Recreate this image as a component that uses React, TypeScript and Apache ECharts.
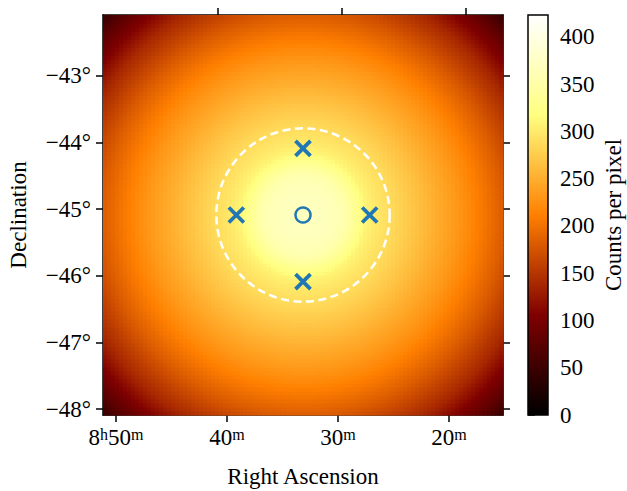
import React, { useEffect, useRef } from 'react';
import * as echarts from 'echarts';

// ---- data ----
const raTicksBottom = [50, 40, 30, 20]; // minutes past 8h, along the bottom edge
const raTicksTop = [40, 30, 20]; // along the top edge (curved grid)
const decTicks = [-48, -47, -46, -45, -44, -43];
const cbTicks = [0, 50, 100, 150, 200, 250, 300, 350, 400];

const raRangeBottom = [15.14, 51.17];
const raRangeTop = [17.02, 49.27];
const decRange = [-48.09, -42.09];
const offsetRange = [-3, 3]; // tangent-plane offsets from the field centre, degrees

// radial count profile of the sky image (radius in degrees -> counts per pixel)
const profileRadius = [0, 0.3, 0.5, 0.65, 0.8, 0.95, 1.1, 1.35, 1.6, 1.8, 2.0, 2.25, 2.5, 2.75, 3.0, 3.25, 3.5, 3.75, 4.0, 4.25];
const profileCounts = [370, 368, 363, 352, 330, 308, 298, 286, 272, 261, 249, 235, 219, 201, 182, 160, 138, 108, 78, 42];

const sourceOffset = [[0, 0]];
const pointingOffsets = [[0, 1], [0, -1], [-1, 0], [1, 0]];
const regionRadius = [1.3];
const vmax = 423;
const colormap = ['#000000', '#800000', '#ff8000', '#ffff80', '#ffffff'];

const nCells = 100;
const FONT = 'Liberation Serif';
const FS = 23;
const BLUE = '#1f77b4';

function profileAt(r: number): number {
  if (r <= profileRadius[0]) return profileCounts[0];
  for (let i = 1; i < profileRadius.length; i++) {
    if (r <= profileRadius[i]) {
      const t = (r - profileRadius[i - 1]) / (profileRadius[i] - profileRadius[i - 1]);
      return profileCounts[i - 1] + t * (profileCounts[i] - profileCounts[i - 1]);
    }
  }
  return profileCounts[profileCounts.length - 1];
}

function buildImage() {
  const out: number[][] = [];
  const step = (offsetRange[1] - offsetRange[0]) / nCells;
  for (let j = 0; j < nCells; j++) {
    const y = offsetRange[0] + (j + 0.5) * step;
    for (let i = 0; i < nCells; i++) {
      const x = offsetRange[0] + (i + 0.5) * step;
      out.push([x, y, profileAt(Math.sqrt(x * x + y * y))]);
    }
  }
  return { out, step };
}

const axisLine = { show: true, onZero: false, lineStyle: { color: '#000', width: 1.5 } };
const tickStyle = { color: '#000', width: 1.5 };

export default function App() {
  const ref = useRef<HTMLDivElement>(null);
  useEffect(() => {
    document.body.style.margin = '0';
    if (!ref.current) return;
    const chart = echarts.init(ref.current, undefined, { renderer: 'svg' });
    const { out: image, step } = buildImage();
    const half = step / 2;

    const option: any = {
      animation: false,
      backgroundColor: '#fff',
      textStyle: { fontFamily: FONT, color: '#000' },
      grid: [
        { left: 103, top: 15, width: 400, height: 400, containLabel: false, outerBoundsMode: 'none' },
        { left: 528, top: 15, width: 20, height: 400, containLabel: false, outerBoundsMode: 'none' },
      ],
      visualMap: {
        type: 'continuous',
        show: false,
        min: 0,
        max: vmax,
        dimension: 2,
        seriesIndex: 0,
        inRange: { color: colormap },
      },
      xAxis: [
        {
          gridIndex: 0, type: 'value', position: 'bottom', inverse: true,
          min: raRangeBottom[0], max: raRangeBottom[1],
          axisLine, splitLine: { show: false },
          axisTick: { show: true, length: 7, lineStyle: tickStyle, customValues: raTicksBottom },
          axisLabel: {
            customValues: raTicksBottom, margin: 11, color: '#000',
            formatter: (v: number) => (v === 50 ? '{n|8}{s|h}{n|50}{s|m}' : `{n|${v}}{s|m}`),
            rich: {
              n: { fontSize: FS, fontFamily: FONT, color: '#000' },
              s: { fontSize: 16, fontFamily: FONT, color: '#000', verticalAlign: 'top' },
            },
          },
          name: 'Right Ascension', nameLocation: 'middle', nameGap: 50,
          nameTextStyle: { fontSize: FS, fontFamily: FONT, color: '#000' },
        },
        {
          gridIndex: 0, type: 'value', position: 'top', inverse: true,
          min: raRangeTop[0], max: raRangeTop[1],
          axisLine, splitLine: { show: false },
          axisTick: { show: true, length: 7, lineStyle: tickStyle, customValues: raTicksTop },
          axisLabel: { show: false },
        },
        { gridIndex: 0, type: 'value', min: offsetRange[0], max: offsetRange[1], show: false },
        { gridIndex: 1, type: 'value', min: 0, max: 1, show: false },
      ],
      yAxis: [
        {
          gridIndex: 0, type: 'value', position: 'left',
          min: decRange[0], max: decRange[1],
          axisLine, splitLine: { show: false },
          axisTick: { show: true, length: 7, lineStyle: tickStyle, customValues: decTicks },
          axisLabel: {
            customValues: decTicks, margin: 12, fontSize: FS, fontFamily: FONT, color: '#000',
            formatter: (v: number) => (v < 0 ? '\u2212' : '') + Math.abs(v) + '°',
          },
          name: 'Declination', nameLocation: 'middle', nameGap: 73,
          nameTextStyle: { fontSize: FS, fontFamily: FONT, color: '#000' },
        },
        {
          gridIndex: 0, type: 'value', position: 'right',
          min: decRange[0], max: decRange[1],
          axisLine, splitLine: { show: false },
          axisTick: { show: true, length: 7, lineStyle: tickStyle, customValues: decTicks },
          axisLabel: { show: false },
        },
        { gridIndex: 0, type: 'value', min: offsetRange[0], max: offsetRange[1], show: false },
        {
          gridIndex: 1, type: 'value', position: 'right', min: 0, max: vmax,
          axisLine: { show: false }, splitLine: { show: false },
          axisTick: { show: true, length: 7, lineStyle: tickStyle, customValues: cbTicks },
          axisLabel: { customValues: cbTicks, margin: 12, fontSize: FS, fontFamily: FONT, color: '#000' },
          name: 'Counts per pixel', nameLocation: 'middle', nameGap: 54,
          nameTextStyle: { fontSize: FS, fontFamily: FONT, color: '#000' },
        },
      ],
      series: [
        {
          type: 'custom', xAxisIndex: 2, yAxisIndex: 2, z: 1,
          data: image,
          encode: { x: 0, y: 1 },
          renderItem: (params: any, api: any) => {
            const x = api.value(0);
            const y = api.value(1);
            const p0 = api.coord([x - half, y + half]);
            const p1 = api.coord([x + half, y - half]);
            return {
              type: 'rect',
              shape: { x: p0[0], y: p0[1], width: p1[0] - p0[0] + 0.6, height: p1[1] - p0[1] + 0.6 },
              style: { fill: api.visual('color') },
            };
          },
        },
        {
          type: 'custom', xAxisIndex: 2, yAxisIndex: 2, z: 3,
          data: [[0, 0, regionRadius[0]]],
          renderItem: (params: any, api: any) => {
            const c = api.coord([api.value(0), api.value(1)]);
            const e = api.coord([api.value(0) + api.value(2), api.value(1)]);
            return {
              type: 'circle',
              shape: { cx: c[0], cy: c[1], r: Math.abs(e[0] - c[0]) },
              style: { fill: 'none', stroke: '#ffffff', lineWidth: 2.5, lineDash: [8, 4.5] },
            };
          },
        },
        {
          type: 'scatter', xAxisIndex: 2, yAxisIndex: 2, z: 4,
          data: sourceOffset,
          symbol: 'circle', symbolSize: 15,
          itemStyle: { color: 'rgba(0,0,0,0)', borderColor: BLUE, borderWidth: 2.5, opacity: 1 },
        },
        {
          type: 'scatter', xAxisIndex: 2, yAxisIndex: 2, z: 4,
          data: pointingOffsets,
          symbol: 'path://M0,0L10,10M10,0L0,10', symbolSize: 15,
          itemStyle: { color: 'none', borderColor: BLUE, borderWidth: 3.8, opacity: 1 },
        },
        {
          type: 'custom', xAxisIndex: 3, yAxisIndex: 3, z: 1,
          data: [[0, 0, vmax]],
          renderItem: (params: any, api: any) => {
            const p0 = api.coord([0, api.value(2)]);
            const p1 = api.coord([1, 0]);
            return {
              type: 'rect',
              shape: { x: p0[0], y: p0[1], width: p1[0] - p0[0], height: p1[1] - p0[1] },
              style: {
                fill: {
                  type: 'linear', x: 0, y: 1, x2: 0, y2: 0,
                  colorStops: colormap.map((c, i) => ({ offset: i / (colormap.length - 1), color: c })),
                },
                stroke: '#000', lineWidth: 1.5,
              },
            };
          },
        },
      ],
    };
    chart.setOption(option);
    return () => chart.dispose();
  }, []);
  return <div ref={ref} style={{ position: 'absolute', left: 0, top: 0, width: 627, height: 491 }} />;
}
